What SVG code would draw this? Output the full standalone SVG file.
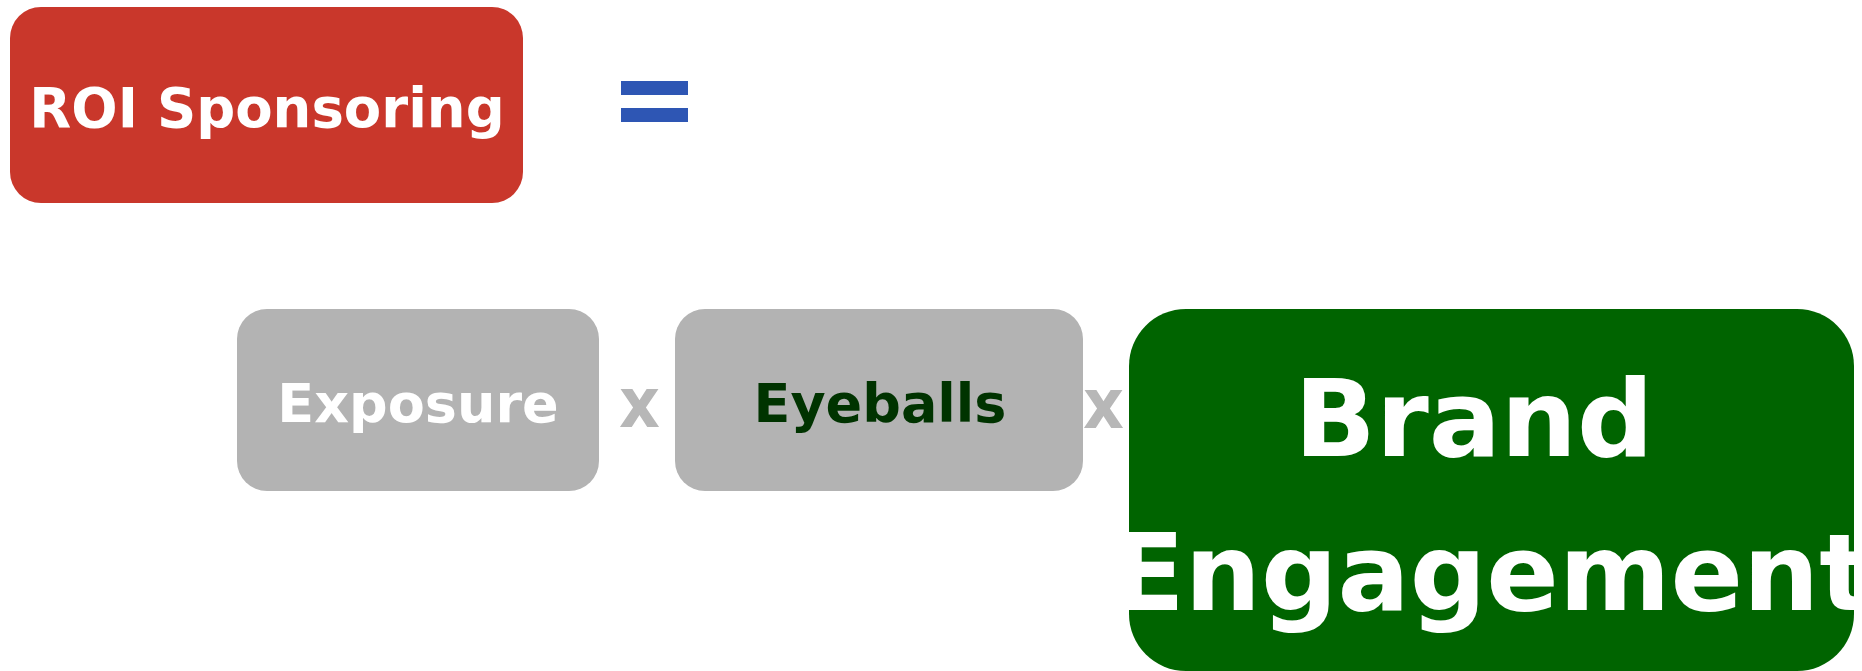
<svg xmlns="http://www.w3.org/2000/svg" width="1862" height="671" viewBox="0 0 1862 671">
  <style>
    .lbl { font-family: "DejaVu Sans", "Liberation Sans", sans-serif; font-weight: bold; text-anchor: middle; }
    .grey { fill: #b3b3b3; }
    .op { font-family: "DejaVu Sans", "Liberation Sans", sans-serif; font-weight: bold; fill: #b7b7b7; font-size: 70px; }
  </style>
  <defs>
    <clipPath id="brandClip">
      <rect x="1129" y="309" width="725" height="362" rx="57" ry="57"/>
    </clipPath>
  </defs>
  <rect width="1862" height="671" fill="#ffffff"/>

  <g id="node-roi">
    <rect x="10" y="7" width="513" height="196" rx="31" ry="31" fill="#c9372b"/>
    <text class="lbl" x="267" y="127" font-size="54.5" fill="#ffffff">ROI Sponsoring</text>
  </g>

  <g id="operators">
    <rect x="621" y="81" width="67" height="14" fill="#2e56b4"/>
    <rect x="621" y="108" width="67" height="14" fill="#2e56b4"/>
    <text class="op" x="619" y="427" textLength="41" lengthAdjust="spacingAndGlyphs">x</text>
    <text class="op" x="1083" y="428" textLength="41" lengthAdjust="spacingAndGlyphs">x</text>
  </g>

  <g id="node-exposure">
    <rect class="grey" x="237" y="309" width="362" height="182" rx="30" ry="30"/>
    <text class="lbl" x="418" y="422" font-size="54" fill="#ffffff">Exposure</text>
  </g>

  <g id="node-eyeballs">
    <rect class="grey" x="675" y="309" width="408" height="182" rx="30" ry="30"/>
    <text class="lbl" x="880" y="422" font-size="54" fill="#003300">Eyeballs</text>
  </g>

  <g id="node-brand">
    <rect x="1129" y="309" width="725" height="362" rx="57" ry="57" fill="#006400"/>
    <g clip-path="url(#brandClip)">
      <text class="lbl" x="1474" y="456" font-size="107" fill="#ffffff">Brand</text>
      <text class="lbl" x="1491" y="610" font-size="107" fill="#ffffff">Engagement</text>
    </g>
  </g>
</svg>
